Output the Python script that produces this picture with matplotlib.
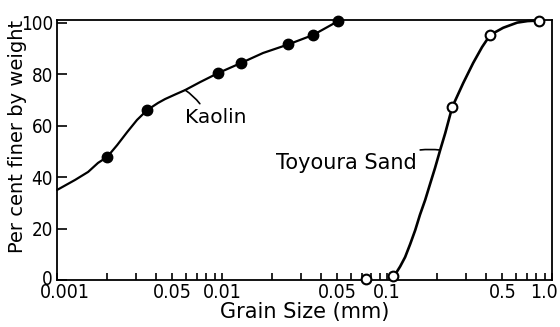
import matplotlib
matplotlib.use("Agg")
import matplotlib.pyplot as plt
from matplotlib.transforms import ScaledTranslation

# ---- data ----
kaolin_x = [0.00201, 0.00351, 0.00946, 0.0130, 0.0251, 0.0356, 0.0505]
kaolin_y = [47.8, 66.0, 80.4, 84.3, 91.5, 95.2, 100.6]

kaolin_curve_x = [0.001, 0.001286, 0.001542, 0.00177, 0.00201, 0.00231, 0.00266, 0.00305,
                  0.00351, 0.00409, 0.00451, 0.0052, 0.00597, 0.00736, 0.00946,
                  0.0130, 0.0177, 0.0251, 0.0356, 0.0505]
kaolin_curve_y = [35.0, 38.9, 42.0, 45.5, 47.8, 52.4, 57.5, 62.2,
                  66.0, 68.8, 70.3, 72.1, 73.8, 76.9, 80.4,
                  84.3, 88.2, 91.5, 95.2, 100.6]

sand_x = [0.0747, 0.1087, 0.248, 0.421, 0.83]
sand_y = [0.5, 1.5, 67.2, 95.2, 100.8]

sand_curve_x = [0.1087, 0.114, 0.120, 0.1285, 0.138, 0.148, 0.158, 0.170, 0.182, 0.195,
                0.2096, 0.225, 0.248, 0.289, 0.332, 0.376, 0.421, 0.505, 0.614, 0.71, 0.83]
sand_curve_y = [1.5, 3.0, 5.3, 8.9, 14.0, 19.4, 25.3, 31.1, 37.3, 43.5,
                50.5, 57.1, 67.2, 76.5, 84.3, 90.5, 95.2, 98.0, 100.0, 100.6, 100.8]

xtick_vals = [0.001, 0.005, 0.01, 0.05, 0.1, 0.5, 1.0]
xtick_labels = ["0.001", "0.05", "0.01", "0.05", "0.1", "0.5", "1.0"]
ytick_vals = [0, 20, 40, 60, 80, 100]
ytick_labels = ["0", "20", "40", "60", "80", "100"]

fig = plt.figure(figsize=(5.6, 3.27), dpi=100)
ax = fig.add_axes([0.102, 0.1437, 0.884, 0.795])

ax.plot(kaolin_curve_x, kaolin_curve_y, color="black", lw=1.6,
        solid_joinstyle="round", solid_capstyle="round", clip_on=False)
ax.plot(sand_curve_x, sand_curve_y, color="black", lw=1.9,
        solid_joinstyle="round", solid_capstyle="round", clip_on=False)
ax.plot(kaolin_x, kaolin_y, linestyle="none", marker="o", ms=7.5,
        mfc="black", mec="black", clip_on=False, zorder=5)
ax.plot(sand_x, sand_y, linestyle="none", marker="o", ms=7,
        mfc="white", mec="black", mew=1.5, clip_on=False, zorder=5)

ax.set_xscale("log")
ax.set_xlim(0.001, 1.0)
ax.set_ylim(0, 101)

ax.set_xticks(xtick_vals)
ax.set_xticklabels(xtick_labels, fontsize=14, fontstretch="condensed")
minor = [m * 10.0 ** e for e in (-3, -2, -1) for m in range(2, 10)
         if m * 10.0 ** e not in xtick_vals]
ax.set_xticks(minor, minor=True)
ax.xaxis.set_minor_formatter(plt.NullFormatter())
ax.set_yticks(ytick_vals)
ax.set_yticklabels(ytick_labels, fontsize=13.5, fontstretch="condensed")

ax.tick_params(axis="x", which="both", direction="in", length=5, width=1.2,
               pad=2, top=False)
ax.tick_params(axis="y", which="both", direction="in", length=7, width=1.2,
               pad=3, right=False)

# shift edge tick labels like the reference
dpi = fig.dpi
lbls = ax.get_xticklabels()
lbls[0].set_transform(lbls[0].get_transform() + ScaledTranslation(8 / dpi, 0, fig.dpi_scale_trans))
lbls[-1].set_transform(lbls[-1].get_transform() + ScaledTranslation(-8 / dpi, 0, fig.dpi_scale_trans))
ylbls = ax.get_yticklabels()
ylbls[0].set_transform(ylbls[0].get_transform() + ScaledTranslation(0, 3 / dpi, fig.dpi_scale_trans))

for s in ax.spines.values():
    s.set_linewidth(1.3)
    s.set_color("black")

ax.set_xlabel("Grain Size (mm)", fontsize=15, labelpad=0)
ax.set_ylabel("Per cent finer by weight", fontsize=14)
ax.yaxis.label.set_verticalalignment("center")
ax.yaxis.set_label_coords(-0.081, 0.554)

ax.annotate("Kaolin", xy=(0.00597, 73.8), xytext=(0.0092, 63.3),
            ha="center", va="center", fontsize=14.5,
            arrowprops=dict(arrowstyle="-", color="black", lw=1.2,
                            shrinkA=1, shrinkB=0, relpos=(0.28, 1.0),
                            connectionstyle="arc3,rad=0.1"))
ax.annotate("Toyoura Sand", xy=(0.2096, 50.5), xytext=(0.0565, 45.5),
            ha="center", va="center", fontsize=15,
            arrowprops=dict(arrowstyle="-", color="black", lw=1.2,
                            shrinkA=1, shrinkB=0, relpos=(0.92, 1.0),
                            connectionstyle="arc3,rad=-0.1"))

fig.savefig("out.png", dpi=100)
